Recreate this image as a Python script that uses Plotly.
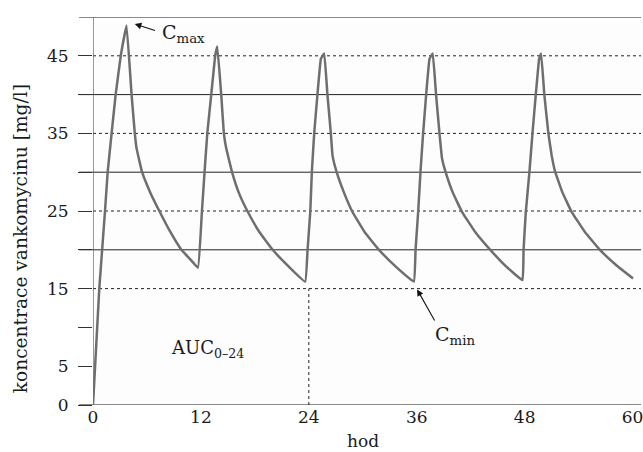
import plotly.graph_objects as go

# Time (hours) and vancomycin concentration (mg/l)
hours = [
    0, 0.3, 0.70, 1.33, 1.63, 2.07, 2.52, 3.10, 3.73, 4.29, 4.65, 4.84, 5.46, 6.4, 7.42, 8.6, 9.83, 10.8, 11.67,
    12.11, 12.41, 12.71, 13.15, 13.6, 13.82, 14.26, 14.55, 14.81, 15.44, 16.2, 17.21, 18.5, 19.98, 21.8, 23.6,
    23.86, 24.16, 24.34, 24.6, 24.96, 25.34, 25.71, 26.07, 26.45, 26.63, 27.07, 27.9, 28.84, 30.2, 31.8, 33.7, 35.68,
    35.87, 36.16, 36.42, 36.71, 37.05, 37.42, 37.78, 38.15, 38.53, 38.81, 39.19, 40.0, 41.03, 42.5, 44.18, 45.9, 47.76,
    47.88, 48.13, 48.54, 48.87, 49.24, 49.61, 49.83, 50.19, 50.64, 51.0, 51.38, 52.2, 53.22, 54.7, 56.37, 58.2, 60.05,
]
concentration = [
    0, 6.4, 15, 24.9, 30, 35, 40, 45.1, 48.9, 40, 35, 33.1, 30, 27.3, 24.9, 22.3, 20, 18.8, 17.7,
    24.9, 30.1, 35, 40, 45.1, 46.2, 40, 35, 33.1, 30.1, 27.4, 24.9, 22.3, 20, 17.8, 15.9,
    20, 24.9, 30.1, 35, 40, 44.6, 45.3, 40, 35, 32.2, 30.1, 27.4, 24.9, 22.3, 20, 17.8, 15.9,
    20, 24.9, 30.1, 35, 40, 44.6, 45.3, 40, 35, 31.8, 30.1, 27.4, 24.9, 22.3, 20, 17.9, 16.1,
    20, 24.9, 30.1, 35, 40, 44.6, 45.3, 40, 35, 32.2, 30.1, 27.4, 24.9, 22.3, 20, 18.0, 16.3,
]

x_ticks = [0, 12, 24, 36, 48, 60]
y_ticks = [0, 5, 10, 15, 20, 25, 30, 35, 40, 45]
y_tick_labels = ["0", "5", "", "15", "", "25", "", "35", "", "45"]
solid_grid = [20, 30, 40]
dotted_grid = [15, 25, 35, 45]
auc_end = 24
auc_level = 15

FONT = "DejaVu Serif"
TXT = "#1a1a1a"
PLOT_W = 550
PLOT_H = 388

fig = go.Figure()
fig.add_trace(go.Scatter(
    x=hours, y=concentration, mode="lines",
    line=dict(color="#6e6e6e", width=2.5, shape="spline", smoothing=0.25),
    hoverinfo="skip", showlegend=False,
))

shapes = []
ext = -14 / PLOT_W
for v in solid_grid:
    shapes.append(dict(type="line", xref="paper", yref="y", x0=ext, x1=1, y0=v, y1=v,
                       line=dict(color="#222222", width=1), layer="below"))
for v in dotted_grid:
    shapes.append(dict(type="line", xref="paper", yref="y", x0=0, x1=1, y0=v, y1=v,
                       line=dict(color="#222222", width=1, dash="dot"), layer="below"))
# bottom axis line and top frame line (gray, thicker)
for v in [0, 50]:
    shapes.append(dict(type="line", xref="paper", yref="y", x0=ext, x1=1, y0=v, y1=v,
                       line=dict(color="#8a8a8a", width=2.2), layer="below"))
# left axis line
shapes.append(dict(type="line", xref="x", yref="y", x0=0, x1=0, y0=0, y1=50,
                   line=dict(color="#555555", width=1.2), layer="below"))
# AUC 0-24 boundary
shapes.append(dict(type="line", xref="x", yref="y", x0=auc_end, x1=auc_end, y0=0, y1=auc_level,
                   line=dict(color="#222222", width=1, dash="dot"), layer="below"))

annotations = [
    dict(x=4.65, y=49.1, ax=7.06, ay=48.2, xref="x", yref="y", axref="x", ayref="y",
         text="", showarrow=True, arrowhead=2, arrowsize=1.2, arrowwidth=1.1, arrowcolor="#111"),
    dict(x=7.45, y=47.9, xref="x", yref="y", text="C<sub>max</sub>", showarrow=False,
         xanchor="left", yanchor="middle", font=dict(family=FONT, size=19, color=TXT)),
    dict(x=36.04, y=14.9, ax=38.08, ay=10.7, xref="x", yref="y", axref="x", ayref="y",
         text="", showarrow=True, arrowhead=2, arrowsize=1.2, arrowwidth=1.1, arrowcolor="#111"),
    dict(x=37.85, y=8.9, xref="x", yref="y", text="C<sub>min</sub>", showarrow=False,
         xanchor="left", yanchor="middle", font=dict(family=FONT, size=19, color=TXT)),
    dict(x=8.5, y=7.2, xref="x", yref="y", text="AUC<sub>0–24</sub>", showarrow=False,
         xanchor="left", yanchor="middle", font=dict(family=FONT, size=18, color=TXT)),
    dict(x=(20 - 93) / PLOT_W, y=(405 - 239) / PLOT_H, xref="paper", yref="paper",
         text="koncentrace vankomycinu [mg/l]", textangle=-90, showarrow=False,
         xanchor="center", yanchor="middle", font=dict(family=FONT, size=18.6, color=TXT)),
    dict(x=(364 - 93) / PLOT_W, y=-36 / PLOT_H, xref="paper", yref="paper", text="hod", showarrow=False,
         xanchor="center", yanchor="middle", font=dict(family=FONT, size=17, color=TXT)),
]

fig.update_layout(
    width=643, height=452,
    margin=dict(l=93, r=0, t=17, b=47),
    paper_bgcolor="white", plot_bgcolor="#fdfdfd",
    shapes=shapes, annotations=annotations,
    showlegend=False,
    xaxis=dict(range=[0, 60.94], tickvals=x_ticks, ticks="", showgrid=False, zeroline=False,
               showline=False, ticklabeloverflow="allow",
               tickfont=dict(family=FONT, size=17, color=TXT)),
    yaxis=dict(range=[0, 50], tickvals=y_ticks, ticktext=y_tick_labels, ticks="outside", ticklen=14,
               tickcolor="#333333", tickwidth=1, showgrid=False, zeroline=False, showline=False,
               ticklabelstandoff=6, tickfont=dict(family=FONT, size=17, color=TXT)),
)

fig.write_html("out.html", config={"displayModeBar": False},
               post_script="document.body.style.margin='0';document.body.style.padding='0';")
